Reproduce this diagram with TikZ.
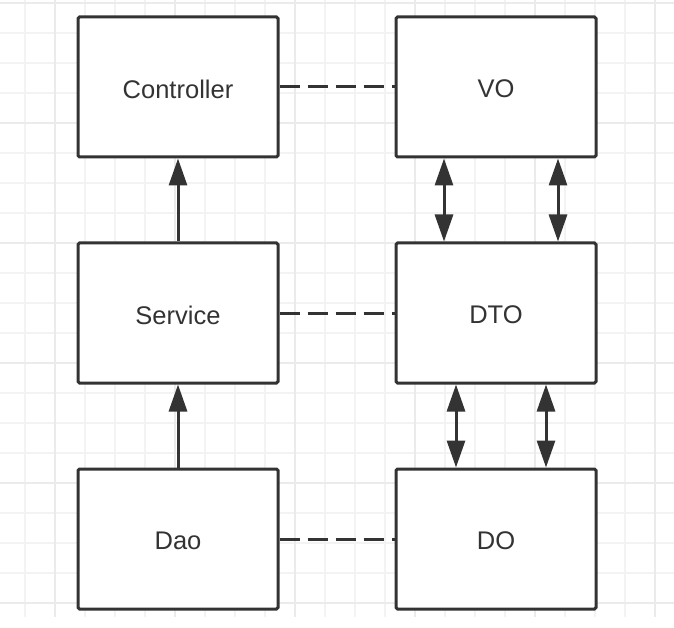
\documentclass[tikz,border=0pt]{standalone}
\usepackage{fontspec}
\setmainfont{Liberation Sans}
\usetikzlibrary{arrows.meta}
\definecolor{ink}{HTML}{333333}
\definecolor{gridminor}{HTML}{F3F3F3}
\definecolor{gridmajor}{HTML}{EBEBEB}
\begin{document}
\begin{tikzpicture}[x=1pt,y=-1pt,
  box/.style={draw=ink,line width=3pt,rounded corners=1.5pt,minimum width=200pt,minimum height=140pt,inner sep=0pt,fill=white,text=ink,font=\fontsize{25.5}{30}\selectfont},
  label/.style={text=ink,font=\fontsize{25.5}{30}\selectfont,inner sep=0pt},
  link/.style={draw=ink,line width=3pt,dash pattern=on 20pt off 8pt},
  uparrow/.style={draw=ink,line width=3pt,-{Triangle[length=27pt,width=18pt]}},
  twoway/.style={draw=ink,line width=3pt,{Triangle[length=27pt,width=18pt]}-{Triangle[length=27pt,width=18pt]}}]
\useasboundingbox (0,0) rectangle (674,628);
\fill[white] (0,0) rectangle (674,628);
% grid
\foreach \x in {25,55,...,655} {\draw[gridminor,line width=1.5pt] (\x,0) -- (\x,617);}
\foreach \y in {3,33,...,603} {\draw[gridminor,line width=1.5pt] (0,\y) -- (674,\y);}
\foreach \x in {55,175,...,655} {\draw[gridmajor,line width=1.5pt] (\x,0) -- (\x,617);}
\foreach \y in {3,123,...,603} {\draw[gridmajor,line width=1.5pt] (0,\y) -- (674,\y);}
% boxes
\node[box] (ctrl) at (178,87) {};
\node[box] (svc) at (178,313) {};
\node[box] (dao) at (178,539) {};
\node[box] (vo) at (496,87) {};
\node[box] (dto) at (496,313) {};
\node[box] (do) at (496,539) {};
\node[label] (ctrlt) at ([yshift=-2pt]ctrl.center) {Controller};
\node[label] (svct) at ([yshift=-2pt]svc.center) {Service};
\node[label] (daot) at ([yshift=-2pt]dao.center) {Dao};
\node[label] (vot) at ([yshift=-2pt]vo.center) {VO};
\node[label] (dtot) at ([yshift=-2pt]dto.center) {DTO};
\node[label] (dot) at ([yshift=-2pt]do.center) {DO};
% dashed links
\draw[link] (ctrl.east) -- (vo.west);
\draw[link] (svc.east) -- (dto.west);
\draw[link] (dao.east) -- (do.west);
% layer arrows
\draw[uparrow] (svc.north) -- (ctrl.south);
\draw[uparrow] (dao.north) -- (svc.south);
% conversions
\draw[twoway] ([xshift=-52pt]vo.south) -- ([xshift=-52pt]dto.north);
\draw[twoway] ([xshift=62pt]vo.south) -- ([xshift=62pt]dto.north);
\draw[twoway] ([xshift=-40pt]dto.south) -- ([xshift=-40pt]do.north);
\draw[twoway] ([xshift=50pt]dto.south) -- ([xshift=50pt]do.north);
\end{tikzpicture}
\end{document}
